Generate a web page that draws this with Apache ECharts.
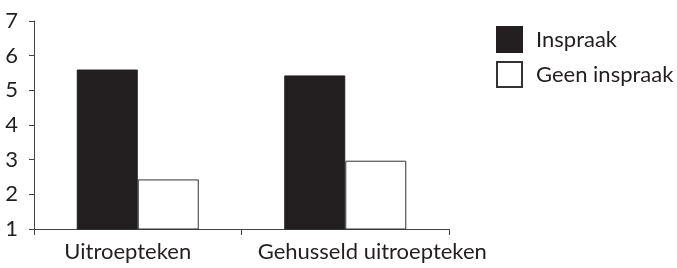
<!DOCTYPE html>
<html>
<head>
<meta charset="utf-8">
<script src="https://cdn.jsdelivr.net/npm/echarts@6/dist/echarts.min.js"></script>
<style>
html,body{margin:0;padding:0;background:#fff;}
#c{width:677px;height:268px;}
</style>
</head>
<body>
<div id="c"></div>
<script>
const categories = ['Uitroepteken', 'Gehusseld uitroepteken'];
const seriesNames = ['Inspraak', 'Geen inspraak'];
const inspraak = [5.6, 5.43];
const geenInspraak = [2.43, 2.97];
const yTicks = [1, 2, 3, 4, 5, 6, 7];

const ink = '#231f20';
const font = 'Lato';
const labelPads = [[0, 20, 0, 0], [0, 0, 0, 54]];
const chart = echarts.init(document.getElementById('c'), null, {renderer: 'canvas'});
chart.setOption({
  animation: false,
  textStyle: {fontFamily: font, color: ink},
  grid: {left: 34, right: 228, top: 21, bottom: 39, containLabel: false},
  legend: {
    data: seriesNames,
    orient: 'vertical',
    left: 496, top: 26, padding: 0,
    itemWidth: 25, itemHeight: 25, itemGap: 8,
    icon: 'rect',
    textStyle: {fontFamily: font, fontSize: 22, color: ink, padding: [0, 0, 0, 9]}
  },
  xAxis: {
    type: 'category',
    data: categories.map((c, i) => ({value: c, textStyle: {padding: labelPads[i]}})),
    axisLine: {lineStyle: {color: '#444', width: 1}},
    axisTick: {show: true, length: 6, lineStyle: {color: '#444'}},
    axisLabel: {fontFamily: font, fontSize: 22, color: ink, margin: 12, interval: 0}
  },
  yAxis: {
    type: 'value',
    min: yTicks[0], max: yTicks[yTicks.length - 1], interval: 1,
    splitLine: {show: false},
    axisLine: {show: true, lineStyle: {color: '#444', width: 1}},
    axisTick: {show: true, length: 5, lineStyle: {color: '#444'}},
    axisLabel: {fontFamily: font, fontSize: 22, color: ink, margin: 16}
  },
  series: [
    {name: seriesNames[0], type: 'bar', data: inspraak, barWidth: 61, barGap: '0%',
     itemStyle: {color: ink, borderColor: ink, borderWidth: 1}},
    {name: seriesNames[1], type: 'bar', data: geenInspraak, barWidth: 61,
     itemStyle: {color: '#ffffff', borderColor: '#333', borderWidth: 1}}
  ]
});
</script>
</body>
</html>
